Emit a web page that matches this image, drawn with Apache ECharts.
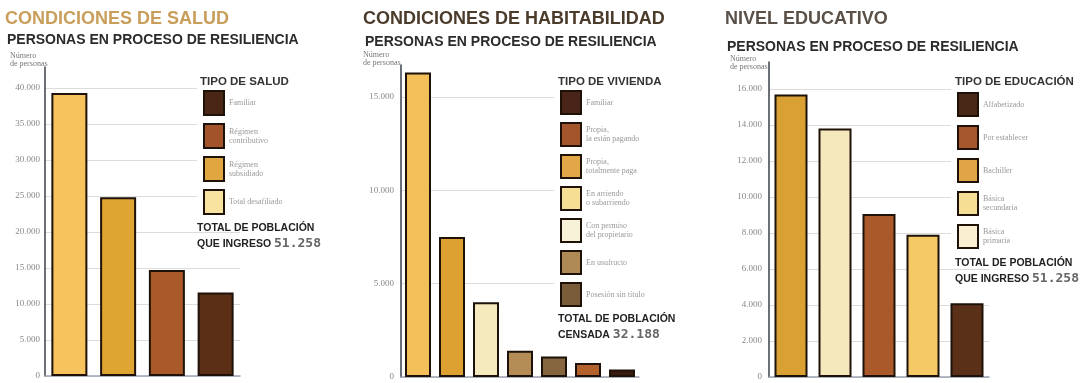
<!DOCTYPE html>
<html><head><meta charset="utf-8">
<script src="https://cdn.jsdelivr.net/npm/echarts@6/dist/echarts.min.js"></script>
<style>html,body{margin:0;padding:0;background:#fff}#c{width:1084px;height:383px}</style>
</head><body><div id="c"></div>
<script>
// ---------- DATA ----------
// Panel 1: Condiciones de salud (bars left to right)
const saludCategories = ['Total desafiliado', 'Régimen subsidiado', 'Régimen contributivo', 'Familiar'];
const saludValues = [39300, 24800, 14700, 11600];
const saludLegend = ['Familiar', 'Régimen contributivo', 'Régimen subsidiado', 'Total desafiliado'];
const saludTotal = '51.258';

// Panel 2: Condiciones de habitabilidad
const viviendaCategories = ['En arriendo o subarriendo', 'Propia, totalmente paga', 'Con permiso del propietario', 'En usufructo', 'Posesión sin título', 'Propia, la están pagando', 'Familiar'];
const viviendaValues = [16300, 7500, 4000, 1400, 1100, 750, 400];
const viviendaLegend = ['Familiar', 'Propia, la están pagando', 'Propia, totalmente paga', 'En arriendo o subarriendo', 'Con permiso del propietario', 'En usufructo', 'Posesión sin título'];
const viviendaTotal = '32.188';

// Panel 3: Nivel educativo
const educacionCategories = ['Bachiller', 'Básica primaria', 'Por establecer', 'Básica secundaria', 'Alfabetizado'];
const educacionValues = [15700, 13800, 9050, 7900, 4100];
const educacionLegend = ['Alfabetizado', 'Por establecer', 'Bachiller', 'Básica secundaria', 'Básica primaria'];
const educacionTotal = '51.258';

// y-axis tick steps
const yTickSteps = [5000, 5000, 2000];

// ---------- STYLE ----------
const barColors = [
  {'Total desafiliado':'#F6C35C','Régimen subsidiado':'#DFA532','Régimen contributivo':'#AA5A28','Familiar':'#5B2E16'},
  {'En arriendo o subarriendo':'#F2BF58','Propia, totalmente paga':'#DDA132','Con permiso del propietario':'#F5E9BE','En usufructo':'#B38D55','Posesión sin título':'#85663F','Propia, la están pagando':'#B3622C','Familiar':'#3A1A0E'},
  {'Bachiller':'#D9A033','Básica primaria':'#F5E8BC','Por establecer':'#A9592A','Básica secundaria':'#F5C965','Alfabetizado':'#5A3018'}
];
const swatchColors = [
  {'Familiar':'#4A2616','Régimen contributivo':'#A3532A','Régimen subsidiado':'#E0A640','Total desafiliado':'#F8E2A0'},
  {'Familiar':'#4A2418','Propia, la están pagando':'#A5552C','Propia, totalmente paga':'#E2A848','En arriendo o subarriendo':'#F7DE95','Con permiso del propietario':'#F8F2D8','En usufructo':'#B08A55','Posesión sin título':'#7A5C3A'},
  {'Alfabetizado':'#4A2818','Por establecer':'#A5562C','Bachiller':'#E0A545','Básica secundaria':'#F7DE95','Básica primaria':'#F8F0D0'}
];
const legendDisplay = {
  'Régimen contributivo':'Régimen\ncontributivo',
  'Régimen subsidiado':'Régimen\nsubsidiado',
  'Propia, la están pagando':'Propia,\nla están pagando',
  'Propia, totalmente paga':'Propia,\ntotalmente paga',
  'En arriendo o subarriendo':'En arriendo\no subarriendo',
  'Con permiso del propietario':'Con permiso\ndel propietario',
  'Básica secundaria':'Básica\nsecundaria',
  'Básica primaria':'Básica\nprimaria'
};

const panels = [
  {cats: saludCategories, vals: saludValues, legend: saludLegend, total: saludTotal,
   title: 'CONDICIONES DE SALUD', titleColor: '#C89E5A', legendTitle: 'TIPO DE SALUD', totalLabel: 'QUE INGRESO ',
   grid: {left: 45, top: 67, width: 195, height: 309}, max: 42900, barWidth: 36, labelMargin: 5,
   titleLeft: 5, subTop: 33, nameLeft: 10, nameTop: 52,
   legendPos: {left: 197, top: 84, itemHeight: 24, itemGap: 7}, headLeft: 200, totalPos: {left: 197, top: 220}},
  {cats: viviendaCategories, vals: viviendaValues, legend: viviendaLegend, total: viviendaTotal,
   title: 'CONDICIONES DE HABITABILIDAD', titleColor: '#4B3B2B', legendTitle: 'TIPO DE VIVIENDA', totalLabel: 'CENSADA ',
   grid: {left: 401, top: 65, width: 238, height: 312}, max: 16700, barWidth: 26, labelMargin: 7,
   titleLeft: 363, subTop: 35, nameLeft: 363, nameTop: 51,
   legendPos: {left: 554, top: 84, itemHeight: 23, itemGap: 7}, headLeft: 558, totalPos: {left: 558, top: 311}},
  {cats: educacionCategories, vals: educacionValues, legend: educacionLegend, total: educacionTotal,
   title: 'NIVEL EDUCATIVO', titleColor: '#5A5048', legendTitle: 'TIPO DE EDUCACIÓN', totalLabel: 'QUE INGRESO ',
   grid: {left: 769, top: 62, width: 220, height: 315}, max: 17500, barWidth: 33, labelMargin: 7,
   titleLeft: 725, subTop: 40, nameLeft: 730, nameTop: 55,
   legendPos: {left: 951, top: 86, itemHeight: 23, itemGap: 8}, headLeft: 955, totalPos: {left: 955, top: 255}}
];

const fmt = v => String(v).replace(/\B(?=(\d{3})+(?!\d))/g, '.');
const SANS = 'Liberation Sans';
const SERIF = 'Liberation Serif';

const grid = [], xAxis = [], yAxis = [], series = [], legend = [], title = [];
panels.forEach((p, k) => {
  grid.push(Object.assign({containLabel: false, outerBoundsMode: 'none'}, p.grid));
  xAxis.push({type: 'category', gridIndex: k, data: p.cats,
    axisLine: {show: true, lineStyle: {color: '#9aa4b2', width: 1.5}},
    axisTick: {show: false}, axisLabel: {show: false}, splitLine: {show: false}});
  yAxis.push({type: 'value', gridIndex: k, min: 0, max: p.max, interval: yTickSteps[k],
    axisLine: {show: true, lineStyle: {color: '#3a3f48', width: 1.5}},
    axisTick: {show: false},
    axisLabel: {show: true, showMaxLabel: false, margin: p.labelMargin, fontFamily: SERIF, fontSize: 9, color: '#888', formatter: fmt},
    splitLine: {show: true, showMaxLine: false, lineStyle: {color: '#dcdcdc', width: 1}}});
  p.cats.forEach((name, i) => {
    series.push({type: 'bar', name: name, xAxisIndex: k, yAxisIndex: k,
      barWidth: p.barWidth, barGap: '-100%',
      data: p.cats.map((_, j) => j === i ? p.vals[i] : '-'),
      itemStyle: {color: barColors[k][name], borderColor: '#1e1208', borderWidth: 2},
      emphasis: {disabled: true}});
  });
  legend.push({orient: 'vertical', left: p.legendPos.left, top: p.legendPos.top,
    itemWidth: 20, itemHeight: p.legendPos.itemHeight, itemGap: p.legendPos.itemGap,
    padding: [6, 6, 4, 6], backgroundColor: '#fff', icon: 'rect', selectedMode: false, z: 5,
    data: p.legend.map(n => ({name: n, itemStyle: {color: swatchColors[k][n], borderColor: '#1e1208', borderWidth: 2}})),
    formatter: n => legendDisplay[n] || n,
    textStyle: {fontFamily: SERIF, fontSize: 8, color: '#999', lineHeight: 9}});
  title.push({text: p.title, left: p.titleLeft, top: 10, padding: 0, z: 10,
    textStyle: {fontFamily: SANS, fontSize: 18, fontWeight: 'bold', color: p.titleColor}});
  title.push({text: 'PERSONAS EN PROCESO DE RESILIENCIA', left: p.titleLeft + 2, top: p.subTop, padding: 0, z: 10,
    textStyle: {fontFamily: SANS, fontSize: 14, fontWeight: 'bold', color: '#2b2b2b'}});
  title.push({text: 'Número\nde personas', left: p.nameLeft, top: p.nameTop, padding: 0, z: 10,
    textStyle: {fontFamily: SERIF, fontSize: 8, fontWeight: 'normal', color: '#777', lineHeight: 8}});
  title.push({text: p.legendTitle, left: p.headLeft, top: 76, padding: 0, z: 10,
    textStyle: {fontFamily: SANS, fontSize: 11.5, fontWeight: 'bold', color: '#333'}});
  title.push({text: '{a|TOTAL DE POBLACIÓN}\n{a|' + p.totalLabel + '}{n|' + p.total + '}',
    left: p.totalPos.left, top: p.totalPos.top, padding: 0, z: 10,
    textStyle: {rich: {
      a: {fontFamily: SANS, fontSize: 10.5, fontWeight: 'bold', color: '#222', lineHeight: 16},
      n: {fontFamily: 'DejaVu Sans Mono', fontSize: 13, color: '#666', lineHeight: 16}}}});
});

const chart = echarts.init(document.getElementById('c'), null, {renderer: 'canvas'});
chart.setOption({
  animation: false,
  backgroundColor: '#fff',
  textStyle: {fontFamily: SANS},
  tooltip: {show: false},
  title, grid, xAxis, yAxis, legend, series
});
</script>
</body></html>
